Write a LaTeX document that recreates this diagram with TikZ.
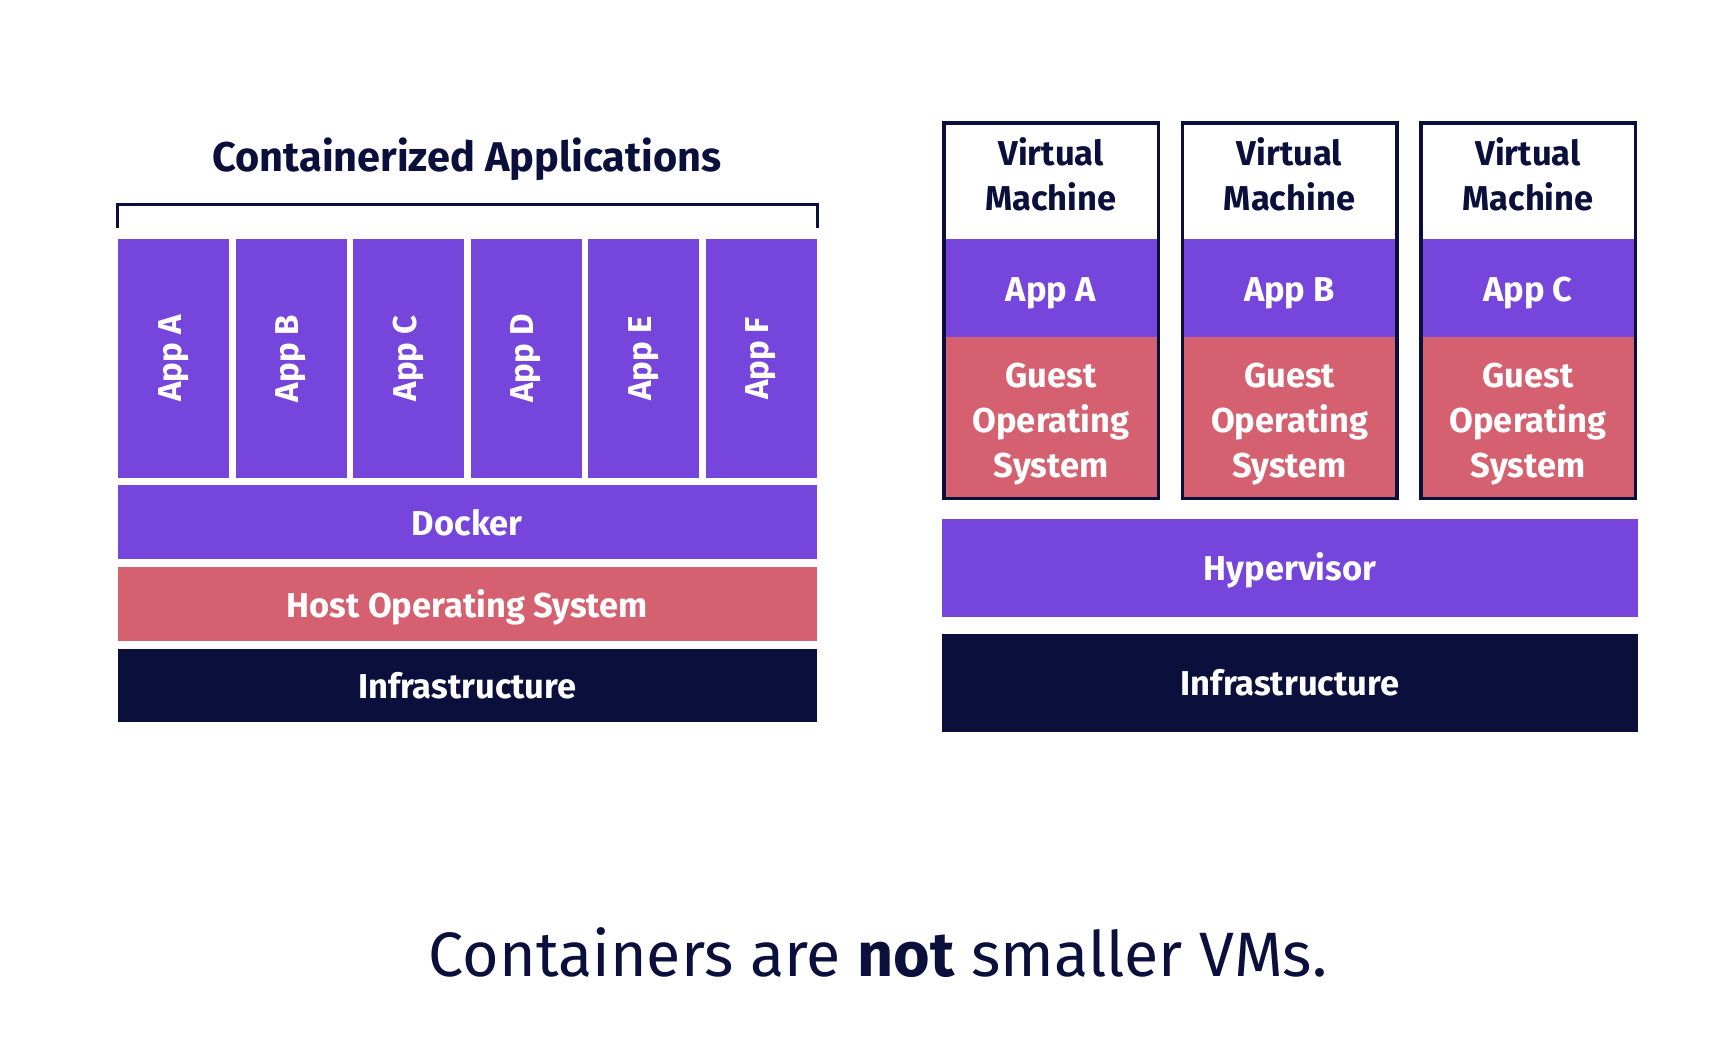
\documentclass[tikz,border=0pt]{standalone}
\usepackage{fontspec}
\setmainfont{Fira Sans}
\definecolor{navy}{HTML}{0A0F3C}
\definecolor{appviolet}{HTML}{7646DC}
\definecolor{osred}{HTML}{D5606F}
\tikzset{
  lbl/.style={font=\fontsize{34.5}{45}\selectfont\bfseries, text=white, align=center},
  rlbl/.style={font=\fontsize{33}{45}\selectfont\bfseries, text=white, rotate=90},
  dlbl/.style={font=\fontsize{34.5}{45}\selectfont\bfseries, text=navy, align=center},
  band/.style={inner sep=0pt, outer sep=0pt, draw=none, anchor=north west},
  vmborder/.style={draw=navy, line width=3.5pt},
  bracketline/.style={draw=navy, line width=3pt},
}
\begin{document}
\begin{tikzpicture}[x=1pt,y=-1pt]
\fill[white] (0,0) rectangle (1736,1044);
\useasboundingbox (0,0) rectangle (1736,1044);

% ---------- left: containers ----------
\node[font=\fontsize{41.5}{46}\selectfont\bfseries, text=navy, anchor=base] (title) at (467,171) {Containerized Applications};
\coordinate (bl) at (117,228);
\coordinate (bltop) at (117,204);
\coordinate (brtop) at (817,204);
\coordinate (br) at (817,228);
\draw[bracketline] (bl) -- (bltop) -- (brtop) -- (br);

\foreach \i/\t in {0/A,1/B,2/C,3/D,4/E,5/F}{
  \node[band, fill=appviolet, minimum width=111pt, minimum height=239pt] (capp\t) at ({118+117.5*\i},239) {};
  \node[rlbl] (capplbl\t) at (capp\t.center) {App \t};
}
\node[band, fill=appviolet, minimum width=698.5pt, minimum height=74pt] (docker) at (118,485) {};
\node[lbl] (dockerlbl) at ([yshift=-1pt]docker.center) {Docker};
\node[band, fill=osred, minimum width=698.5pt, minimum height=74pt] (hostos) at (118,567) {};
\node[lbl] (hostoslbl) at ([yshift=-3pt]hostos.center) {Host Operating System};
\node[band, fill=navy, minimum width=698.5pt, minimum height=73pt] (cinfra) at (118,649) {};
\node[lbl] (cinfralbl) at (cinfra.center) {Infrastructure};

% ---------- right: virtual machines ----------
\foreach \i/\t in {0/A,1/B,2/C}{
  \node[band, fill=white, minimum width=218pt, minimum height=118pt] (vm\t) at ({942+238.5*\i},121) {};
  \node[band, fill=appviolet, minimum width=218pt, minimum height=98pt] (vmapp\t) at ({942+238.5*\i},239) {};
  \node[band, fill=osred, minimum width=218pt, minimum height=163pt] (vmos\t) at ({942+238.5*\i},337) {};
  \draw[vmborder] ({942+238.5*\i+1.75},122.75) rectangle ({942+238.5*\i+218-1.75},498.25);
  \node[dlbl] (vmlbl\t) at ([yshift=5.5pt]vm\t.center) {Virtual\\Machine};
  \node[lbl] (vmapplbl\t) at ([yshift=-5.5pt]vmapp\t.center) {App \t};
  \node[lbl] (vmoslbl\t) at ([yshift=-5.5pt]vmos\t.center) {Guest\\Operating\\System};
}
\node[band, fill=appviolet, minimum width=696pt, minimum height=98pt] (hyper) at (942,519) {};
\node[lbl] (hyperlbl) at ([yshift=-2pt]hyper.center) {Hypervisor};
\node[band, fill=navy, minimum width=696pt, minimum height=98pt] (vinfra) at (942,634) {};
\node[lbl] (vinfralbl) at (vinfra.center) {Infrastructure};

% ---------- caption ----------
\node[font=\fontsize{62.7}{68}\selectfont, text=navy, anchor=base] (caption) at (878,976) {Containers are \textbf{not} smaller VMs.};
\end{tikzpicture}
\end{document}
